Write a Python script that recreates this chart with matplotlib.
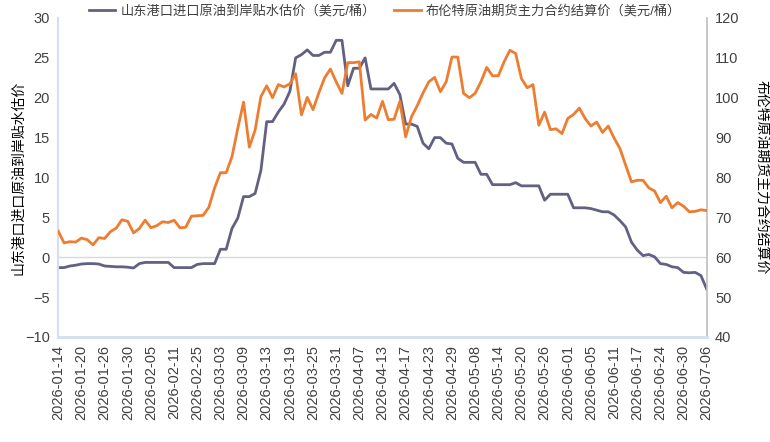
import matplotlib
matplotlib.use("Agg")
import matplotlib.pyplot as plt
import numpy as np

plt.rcParams['font.family'] = ['Liberation Sans', 'Noto Sans CJK SC', 'DejaVu Sans']

# -----------------------------
# Data
# -----------------------------
tick_labels = [
    "2026-01-14", "2026-01-20", "2026-01-26", "2026-01-30", "2026-02-05",
    "2026-02-11", "2026-02-25", "2026-03-03", "2026-03-09", "2026-03-13",
    "2026-03-19", "2026-03-25", "2026-03-31", "2026-04-07", "2026-04-13",
    "2026-04-17", "2026-04-23", "2026-04-29", "2026-05-08", "2026-05-14",
    "2026-05-20", "2026-05-26", "2026-06-01", "2026-06-05", "2026-06-11",
    "2026-06-17", "2026-06-24", "2026-06-30", "2026-07-06",
]

# 山东港口进口原油到岸贴水估价（美元/桶） - left axis
shandong_premium = [
    -1.3, -1.3, -1.1, -1.0, -0.85, -0.8, -0.8, -0.85, -1.1, -1.15,
    -1.2, -1.2, -1.25, -1.35, -0.8, -0.65, -0.65, -0.65, -0.65, -0.65,
    -1.3, -1.3, -1.3, -1.3, -0.9, -0.8, -0.8, -0.8, 1.0, 1.0,
    3.6, 4.9, 7.6, 7.6, 8.0, 10.9, 17.0, 17.0, 18.2, 19.2,
    20.8, 25.0, 25.4, 26.0, 25.3, 25.3, 25.7, 25.7, 27.2, 27.2,
    21.5, 23.7, 23.7, 25.0, 21.1, 21.1, 21.1, 21.1, 21.8, 20.4,
    16.7, 16.7, 16.4, 14.3, 13.6, 15.0, 15.0, 14.3, 14.2, 12.4,
    11.9, 11.9, 11.9, 10.4, 10.4, 9.1, 9.1, 9.1, 9.1, 9.35,
    8.95, 8.95, 8.95, 8.95, 7.15, 7.9, 7.9, 7.9, 7.9, 6.2,
    6.2, 6.2, 6.1, 5.9, 5.7, 5.7, 5.3, 4.6, 3.8, 1.9,
    0.9, 0.2, 0.35, 0.05, -0.8, -0.9, -1.2, -1.3, -1.9, -1.95,
    -1.9, -2.3, -4.0,
]

# 布伦特原油期货主力合约结算价（美元/桶） - right axis
brent_settle = [
    66.5, 63.6, 63.9, 63.8, 64.8, 64.4, 63.1, 64.9, 64.7, 66.4,
    67.3, 69.4, 69.0, 66.1, 67.2, 69.3, 67.4, 67.9, 68.9, 68.7,
    69.3, 67.4, 67.5, 70.3, 70.4, 70.5, 72.5, 77.4, 81.2, 81.2,
    85.2, 92.3, 98.9, 87.6, 91.9, 100.3, 103.0, 100.0, 103.3, 102.7,
    103.5, 106.0, 95.7, 100.1, 97.0, 101.2, 105.0, 107.2, 104.0, 101.1,
    108.8, 108.8, 109.0, 94.4, 95.8, 94.9, 99.1, 94.5, 94.6, 99.1,
    90.2, 95.2, 98.0, 101.2, 104.0, 105.1, 101.5, 104.0, 110.2, 110.2,
    101.1, 100.0, 101.1, 104.0, 107.6, 105.5, 105.5, 109.0, 111.9, 111.1,
    104.8, 102.5, 103.3, 93.1, 96.4, 92.0, 92.2, 91.0, 94.8, 95.8,
    97.4, 94.8, 92.9, 93.9, 91.3, 92.9, 89.9, 87.3, 83.1, 78.9,
    79.3, 79.3, 77.4, 76.6, 73.7, 75.3, 72.4, 73.7, 72.8, 71.4,
    71.5, 71.9, 71.7,
]

label_left = "山东港口进口原油到岸贴水估价（美元/桶）"
label_right = "布伦特原油期货主力合约结算价（美元/桶）"

# -----------------------------
# Plot
# -----------------------------
x = np.arange(len(shandong_premium))
step = (len(x) - 1) // (len(tick_labels) - 1)

fig = plt.figure(figsize=(7.7, 4.42), dpi=100)
ax = fig.add_axes([0.0757, 0.2376, 0.8421, 0.7217])
ax2 = ax.twinx()

ax.axhline(0, color='#D9D9D9', lw=1.0, zorder=1)
l1, = ax.plot(x, shandong_premium, color='#626184', lw=2.0, label=label_left, zorder=3)
l2, = ax2.plot(x, brent_settle, color='#ED7D31', lw=2.0, label=label_right, zorder=3)

ax.set_xlim(0, len(x) - 1)
ax.set_ylim(-10, 30)
ax.set_yticks(range(-10, 31, 5))
ax2.set_ylim(40, 120)
ax2.set_yticks(range(40, 121, 10))

ax.set_xticks(x[::step])
ax.set_xticklabels(tick_labels, rotation=90, fontsize=10.5, color='#404040')
ax.tick_params(axis='x', length=0, pad=6)
ax.tick_params(axis='y', length=0, labelsize=10.5, labelcolor='#404040', pad=6)
ax2.tick_params(axis='y', length=0, labelsize=10.5, labelcolor='#404040', pad=6)

ax.set_ylabel("山东港口进口原油到岸贴水估价", fontsize=10, color='black', labelpad=0)
ax2.set_ylabel("布伦特原油期货主力合约结算价", fontsize=10, color='black',
               rotation=270, labelpad=21)

for a in (ax, ax2):
    a.spines['top'].set_visible(False)
    a.spines['left'].set_color('#D6E0EE')
    a.spines['left'].set_linewidth(1.5)
    a.spines['bottom'].set_color('#D6E0EE')
    a.spines['bottom'].set_linewidth(2.0)
    a.spines['right'].set_color('#BFBFBF')
    a.spines['right'].set_linewidth(1.2)
ax.spines['right'].set_visible(False)

fig.legend(handles=[l1, l2], loc='upper center', bbox_to_anchor=(0.5, 1.015),
           ncol=2, frameon=False, fontsize=9.5, handlelength=2.0,
           columnspacing=1.4, handletextpad=0.4, labelcolor='#404040')

fig.savefig("out.png", dpi=100)
